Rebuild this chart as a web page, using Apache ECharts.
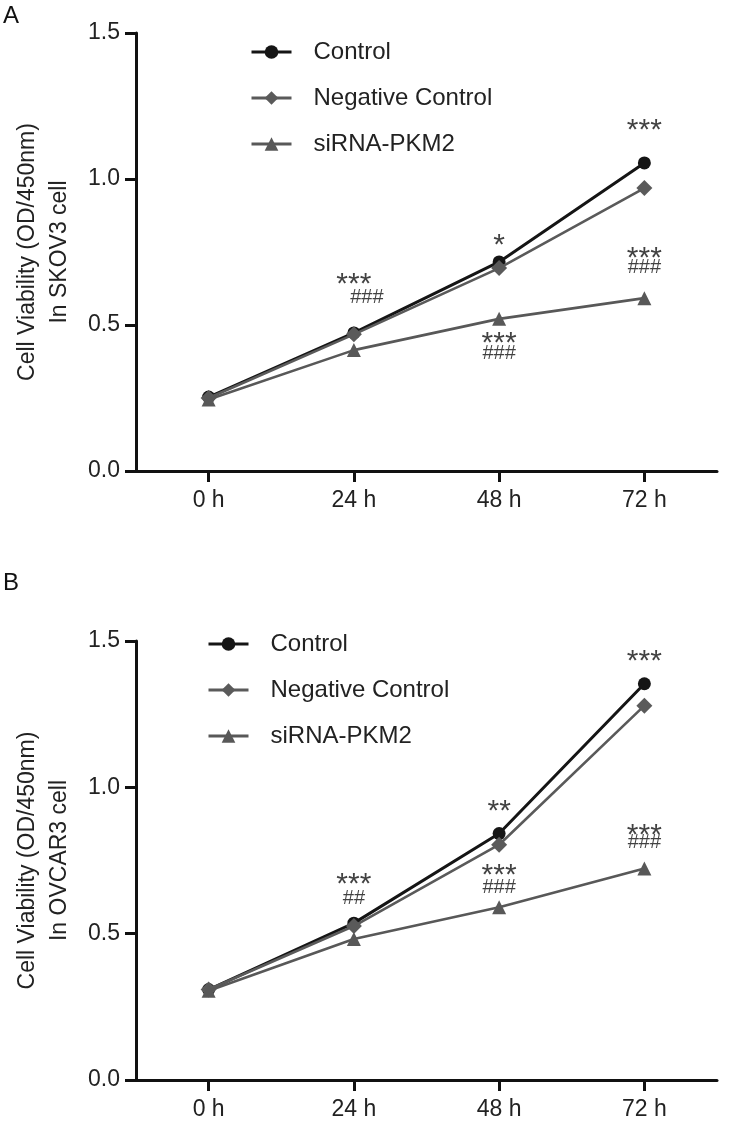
<!DOCTYPE html>
<html>
<head>
<meta charset="utf-8">
<script src="https://cdn.jsdelivr.net/npm/echarts@6/dist/echarts.min.js"></script>
<style>
html,body{margin:0;padding:0;background:#fff;}
#chart{width:733px;height:1126px;}
</style>
</head>
<body>
<div id="chart"></div>
<script>
const categories = ['0 h', '24 h', '48 h', '72 h'];
const seriesNames = ['Control', 'Negative Control', 'siRNA-PKM2'];
const yTickLabels = ['0.0', '0.5', '1.0', '1.5'];

const skovControl = [0.253, 0.473, 0.716, 1.055];
const skovNegative = [0.250, 0.468, 0.695, 0.969];
const skovSiRNA = [0.245, 0.414, 0.521, 0.592];

const ovcarControl = [0.309, 0.536, 0.842, 1.354];
const ovcarNegative = [0.309, 0.526, 0.804, 1.279];
const ovcarSiRNA = [0.305, 0.482, 0.590, 0.723];

const skovMarks = [
  ['72 h', 1.188, '***'], ['48 h', 0.795, '*'],
  ['24 h', 0.661, '***'], ['24 h', 0.594, '###'],
  ['48 h', 0.459, '***'], ['48 h', 0.404, '###'],
  ['72 h', 0.752, '***'], ['72 h', 0.698, '###']
];
const ovcarMarks = [
  ['72 h', 1.452, '***'], ['48 h', 0.940, '**'],
  ['24 h', 0.692, '***'], ['24 h', 0.619, '##'],
  ['48 h', 0.721, '***'], ['48 h', 0.658, '###'],
  ['72 h', 0.860, '***'], ['72 h', 0.810, '###']
];
const yTitleA = 'Cell Viability (OD/450nm)\nIn SKOV3 cell';
const yTitleB = 'Cell Viability (OD/450nm)\nIn OVCAR3 cell';

const FONT = 'Liberation Sans, Arial, sans-serif';
const AXIS_COLOR = '#111';
const styles = [
  { color: '#151515', symbol: 'circle', size: 13, width: 3 },
  { color: '#5a5a5a', symbol: 'diamond', size: 16, width: 2.6 },
  { color: '#585858', symbol: 'triangle', size: 14, width: 2.6 }
];

function xAxisCfg(gi) {
  return {
    type: 'category', gridIndex: gi, data: categories, boundaryGap: true,
    axisLine: { show: true, lineStyle: { color: AXIS_COLOR, width: 3 } },
    axisTick: { show: true, alignWithLabel: true, length: 11, lineStyle: { width: 3, color: AXIS_COLOR } },
    axisLabel: { fontFamily: FONT, fontSize: 23, color: '#222', margin: 18 },
    splitLine: { show: false }
  };
}
function yAxisCfg(gi, title) {
  return {
    type: 'value', gridIndex: gi, min: 0, max: 1.5, interval: 0.5,
    name: title, nameLocation: 'middle', nameRotate: 90, nameGap: 60,
    nameTextStyle: { fontFamily: FONT, fontSize: 23, color: '#222', lineHeight: 32, align: 'center' },
    axisLine: { show: true, lineStyle: { color: AXIS_COLOR, width: 3 } },
    axisTick: { show: true, length: 11, lineStyle: { width: 3, color: AXIS_COLOR } },
    axisLabel: { fontFamily: FONT, fontSize: 23, color: '#222', margin: 16,
      formatter: (v) => yTickLabels[Math.round(v / 0.5)] },
    splitLine: { show: false }
  };
}
function lineSeries(gi, values, idx) {
  const s = styles[idx];
  return {
    type: 'line', name: seriesNames[idx], xAxisIndex: gi, yAxisIndex: gi,
    data: values, symbol: s.symbol, symbolSize: s.size, showSymbol: true,
    lineStyle: { color: s.color, width: s.width },
    itemStyle: { color: s.color, borderWidth: 0 },
    z: 2 + idx, animation: false
  };
}
function markSeries(gi, marks, xShift) {
  return {
    type: 'scatter', xAxisIndex: gi, yAxisIndex: gi, symbolSize: 0, silent: true,
    animation: false, z: 10,
    data: marks.map((m, i) => {
      const hash = m[2].charAt(0) === '#';
      return {
        value: [m[0], m[1]],
        label: {
          show: true, position: 'inside', formatter: m[2],
          fontFamily: FONT, color: '#111',
          fontSize: hash ? 20 : 30,
          offset: [xShift[i] || 0, hash ? 0 : 7]
        }
      };
    })
  };
}
function legendCfg(left, top) {
  return {
    orient: 'vertical', left: left, top: top, itemWidth: 40, itemHeight: 17, itemGap: 22,
    data: seriesNames, selectedMode: false,
    lineStyle: { width: 3 },
    textStyle: { fontFamily: FONT, fontSize: 24, color: '#222', padding: [0, 0, 0, 17] }
  };
}

const option = {
  backgroundColor: '#fff',
  animation: false,
  graphic: [
    { type: 'text', left: 3, top: 4, style: { text: 'A', fontFamily: FONT, fontSize: 24, fill: '#111' } },
    { type: 'text', left: 3, top: 571, style: { text: 'B', fontFamily: FONT, fontSize: 24, fill: '#111' } }
  ],
  legend: [legendCfg(245, 35), legendCfg(202, 627)],
  grid: [
    { left: 136, right: 16, top: 33, height: 438 },
    { left: 136, right: 16, top: 641, height: 439 }
  ],
  xAxis: [xAxisCfg(0), xAxisCfg(1)],
  yAxis: [yAxisCfg(0, yTitleA), yAxisCfg(1, yTitleB)],
  series: [
    lineSeries(0, skovControl, 0),
    lineSeries(0, skovNegative, 1),
    lineSeries(0, skovSiRNA, 2),
    lineSeries(1, ovcarControl, 0),
    lineSeries(1, ovcarNegative, 1),
    lineSeries(1, ovcarSiRNA, 2),
    markSeries(0, skovMarks, { 3: 13 }),
    markSeries(1, ovcarMarks, {})
  ]
};
const chart = echarts.init(document.getElementById('chart'), null, { renderer: 'canvas' });
chart.setOption(option);
</script>
</body>
</html>
